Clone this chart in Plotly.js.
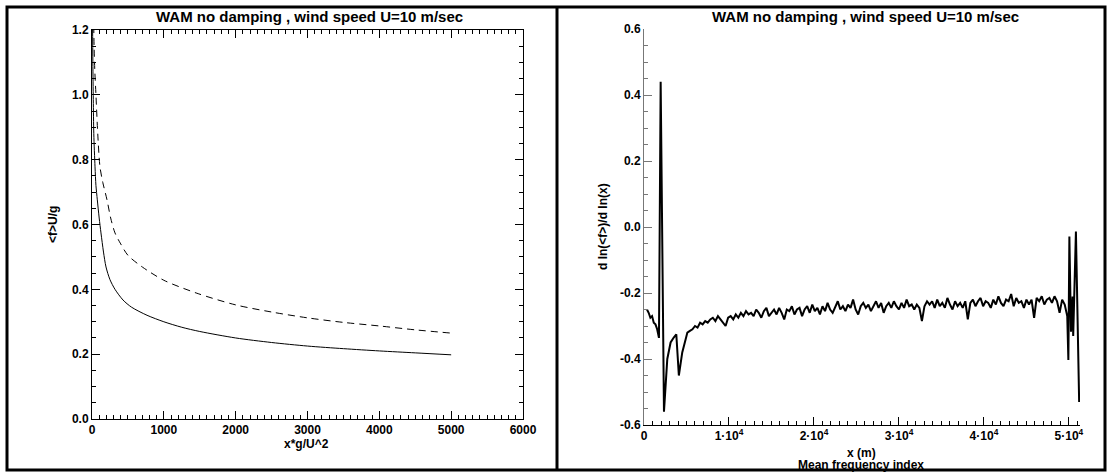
<!DOCTYPE html>
<html><head><meta charset="utf-8">
<script src="https://cdn.plot.ly/plotly-3.0.1.min.js"></script>
<style>html,body{margin:0;padding:0;background:#fff}#chart{width:1108px;height:473px}</style>
</head><body><div id="chart"></div><script>
// ---- Left panel data: dimensionless fetch x*g/U^2 vs <f>U/g ----
const solidX = [8, 12, 18, 25, 42, 55, 74, 100, 125, 160, 195, 250, 320, 432, 550, 766, 1000, 1250, 1500, 2000, 2500, 3000, 3500, 4000, 4500, 5000];
const solidY = [1.22, 1.10, 0.985, 0.88, 0.778, 0.72, 0.676, 0.62, 0.574, 0.515, 0.469, 0.43, 0.40, 0.367, 0.345, 0.32, 0.30, 0.283, 0.27, 0.25, 0.236, 0.225, 0.217, 0.21, 0.204, 0.198];
const dashX = [22, 30, 40, 55, 80, 111, 150, 209, 260, 320, 400, 500, 700, 1000, 1460, 2000, 2500, 3000, 3500, 4000, 4500, 5000];
const dashY = [1.25, 1.14, 1.07, 1.0, 0.88, 0.778, 0.73, 0.676, 0.62, 0.574, 0.54, 0.505, 0.469, 0.428, 0.388, 0.352, 0.33, 0.312, 0.298, 0.287, 0.275, 0.265];

// ---- Right panel data: x (m) vs d ln(<f>)/d ln(x) ----
const xEarly = [350, 550, 750, 950, 1150, 1350, 1550, 1760, 1960, 2350, 2740, 3130, 3500, 3800, 4100, 4500, 4900];
const yEarly = [-0.25, -0.26, -0.275, -0.27, -0.29, -0.295, -0.31, -0.336, 0.44, -0.56, -0.40, -0.35, -0.335, -0.325, -0.45, -0.38, -0.34];
const xMid = [5100,5400,5700,6000,6300,6600,6900,7200,
7500,7800,8100,8400,8700,9000,9300,9600,9900,
10200,10500,10800,11100,11400,11700,12000,12300,12600,
12900,13200,13500,13800,14100,14400,14700,15000,15300,
15600,15900,16200,16500,16800,17100,17400,17700,18000,
18300,18600,18900,19200,19500,19800,20100,20400,20700,
21000,21300,21600,21900,22200,22500,22800,23100,23400,
23700,24000,24300,24600,24900,25200,25500,25800,26100,
26400,26700,27000,27300,27600,27900,28200,28500,28800,
29100,29400,29700,30000,30300,30600,30900,31200,31500,
31800,32100,32400,32700,33000,33300,33600,33900,34200,
34500,34800,35100,35400,35700,36000,36300,36600,36900,
37200,37500,37800,38100,38400,38700,39000,39300,39600,
39900,40200,40500,40800,41100,41400,41700,42000,42300,
42600,42900,43200,43500,43800,44100,44400,44700,45000,
45300,45600,45900,46200,46500,46800,47100,47400,47700,
48000,48300,48600,48900,49200,49500,49800];
const yMid = [-0.32,-0.315,-0.31,-0.30,-0.305,-0.29,-0.295,-0.285,
-0.29,-0.28,-0.275,-0.285,-0.27,-0.28,-0.29,-0.30,-0.275,
-0.27,-0.28,-0.265,-0.275,-0.26,-0.27,-0.255,-0.265,-0.26,
-0.27,-0.25,-0.26,-0.275,-0.255,-0.245,-0.27,-0.26,-0.25,
-0.265,-0.245,-0.26,-0.28,-0.25,-0.255,-0.24,-0.265,-0.25,
-0.245,-0.27,-0.25,-0.24,-0.26,-0.235,-0.255,-0.245,-0.265,
-0.24,-0.255,-0.23,-0.25,-0.26,-0.24,-0.225,-0.25,-0.24,
-0.255,-0.235,-0.245,-0.22,-0.25,-0.265,-0.24,-0.23,-0.245,
-0.235,-0.255,-0.24,-0.225,-0.245,-0.23,-0.26,-0.24,-0.23,
-0.245,-0.225,-0.24,-0.25,-0.23,-0.245,-0.22,-0.24,-0.235,
-0.25,-0.235,-0.245,-0.285,-0.24,-0.225,-0.235,-0.225,-0.245,
-0.22,-0.24,-0.23,-0.245,-0.215,-0.235,-0.25,-0.225,-0.24,
-0.23,-0.245,-0.225,-0.28,-0.23,-0.22,-0.24,-0.225,-0.215,
-0.24,-0.225,-0.23,-0.245,-0.22,-0.235,-0.21,-0.23,-0.24,
-0.22,-0.225,-0.203,-0.24,-0.215,-0.23,-0.225,-0.245,-0.22,
-0.235,-0.22,-0.275,-0.215,-0.225,-0.21,-0.235,-0.22,-0.215,
-0.23,-0.21,-0.225,-0.26,-0.22,-0.235,-0.27];
const xEnd = [49930, 50050, 50240, 50430, 50500, 50820, 51200];
const yEnd = [-0.403, -0.029, -0.317, -0.211, -0.33, -0.014, -0.53];

// ---- Tick labels ----
const leftXTicks = [0, 1000, 2000, 3000, 4000, 5000, 6000];
const leftYTicks = [0, 0.2, 0.4, 0.6, 0.8, 1.0, 1.2];
const rightXTicks = [0, 10000, 20000, 30000, 40000, 50000];
const rightXLabels = ['0', '1·10<sup>4</sup>', '2·10<sup>4</sup>', '3·10<sup>4</sup>', '4·10<sup>4</sup>', '5·10<sup>4</sup>'];
const rightYTicks = [-0.6, -0.4, -0.2, 0.0, 0.2, 0.4, 0.6];
const rightYLabels = ['-0.6', '-0.4', '-0.2', '0.0', '0.2', '0.4', '0.6'];

const titleText = 'WAM no damping , wind speed U=10 m/sec';

const W = 1108, H = 473;
const px = v => v / W;
const py = v => 1 - v / H;
const FAM = 'Liberation Sans, Arial, sans-serif';
const tickFont = {family: FAM, size: 12, color: '#000', weight: 'bold'};
const lblFont = {family: FAM, size: 12, color: '#000', weight: 'bold'};

const traces = [
  {x: solidX, y: solidY, xaxis: 'x', yaxis: 'y', mode: 'lines', line: {color: '#000', width: 1, shape: 'spline', smoothing: 0.8}, hoverinfo: 'skip'},
  {x: dashX, y: dashY, xaxis: 'x', yaxis: 'y', mode: 'lines', line: {color: '#000', width: 1, dash: '7px,5px', shape: 'spline', smoothing: 0.8}, hoverinfo: 'skip'},
  {x: xEarly.concat(xMid, xEnd), y: yEarly.concat(yMid, yEnd), xaxis: 'x2', yaxis: 'y2', mode: 'lines',
   line: {color: '#000', width: 2}, hoverinfo: 'skip'}
];

const layout = {
  width: W, height: H, autosize: false,
  margin: {l: 0, r: 0, t: 0, b: 0},
  paper_bgcolor: '#fff', plot_bgcolor: '#fff',
  showlegend: false,
  xaxis: {domain: [px(92), px(523)], anchor: 'y', range: [0, 6000], tickmode: 'array', tickvals: leftXTicks,
    ticks: 'inside', ticklen: 8, tickwidth: 1, tickcolor: '#000', mirror: 'allticks', showline: true, linecolor: '#000', linewidth: 1,
    showgrid: false, zeroline: false, tickfont: tickFont,
    minor: {tickmode: 'linear', tick0: 0, dtick: 100, ticks: 'inside', ticklen: 4, tickwidth: 1, tickcolor: '#000', showgrid: false}},
  yaxis: {domain: [py(419), py(30)], anchor: 'x', range: [0, 1.2], tickmode: 'array', tickvals: leftYTicks, tickformat: '.1f',
    ticks: 'inside', ticklen: 8, tickwidth: 1, tickcolor: '#000', mirror: 'allticks', showline: true, linecolor: '#000', linewidth: 1,
    showgrid: false, zeroline: false, tickfont: tickFont,
    minor: {tickmode: 'linear', tick0: 0, dtick: 0.05, ticks: 'inside', ticklen: 4, tickwidth: 1, tickcolor: '#000', showgrid: false}},
  xaxis2: {domain: [px(644), px(1080)], anchor: 'y2', range: [0, 51300], tickmode: 'array', tickvals: rightXTicks, ticktext: rightXLabels,
    ticks: 'inside', ticklen: 8, tickwidth: 1, tickcolor: '#000', showline: true, linecolor: '#000', linewidth: 1,
    showgrid: false, zeroline: false, tickfont: tickFont,
    minor: {tickmode: 'linear', tick0: 0, dtick: 1000, ticks: 'inside', ticklen: 4, tickwidth: 1, tickcolor: '#000', showgrid: false}},
  yaxis2: {domain: [py(425), py(29)], anchor: 'x2', range: [-0.6, 0.6], tickmode: 'array', tickvals: rightYTicks, ticktext: rightYLabels,
    ticks: 'inside', ticklen: 8, tickwidth: 1, tickcolor: '#777', showline: true, linecolor: '#777', linewidth: 1,
    showgrid: false, zeroline: false, tickfont: tickFont,
    minor: {tickmode: 'linear', tick0: -0.6, dtick: 0.05, ticks: 'inside', ticklen: 4, tickwidth: 1, tickcolor: '#777', showgrid: false}},
  annotations: [
    {text: titleText, x: px(309), y: py(16), xref: 'paper', yref: 'paper', showarrow: false, xanchor: 'center', yanchor: 'middle',
     font: {family: FAM, size: 15, color: '#000', weight: 'bold'}},
    {text: titleText, x: px(865), y: py(16), xref: 'paper', yref: 'paper', showarrow: false, xanchor: 'center', yanchor: 'middle',
     font: {family: FAM, size: 15, color: '#000', weight: 'bold'}},
    {text: 'x*g/U^2', x: px(306), y: py(444), xref: 'paper', yref: 'paper', showarrow: false, xanchor: 'center', yanchor: 'middle', font: lblFont},
    {text: '&lt;f&gt;U/g', x: px(53), y: py(225), xref: 'paper', yref: 'paper', showarrow: false, xanchor: 'center', yanchor: 'middle', textangle: -90, font: lblFont},
    {text: 'x (m)', x: px(861), y: py(453), xref: 'paper', yref: 'paper', showarrow: false, xanchor: 'center', yanchor: 'middle', font: lblFont},
    {text: 'Mean frequency index', x: px(861), y: py(465), xref: 'paper', yref: 'paper', showarrow: false, xanchor: 'center', yanchor: 'middle', font: lblFont},
    {text: 'd ln(&lt;f&gt;)/d ln(x)', x: px(603), y: py(227), xref: 'paper', yref: 'paper', showarrow: false, xanchor: 'center', yanchor: 'middle', textangle: -90, font: lblFont}
  ],
  shapes: [
    {type: 'rect', xref: 'paper', yref: 'paper', x0: px(7), x1: px(1105), y0: py(470), y1: py(7), line: {color: '#000', width: 3}, layer: 'above'},
    {type: 'line', xref: 'paper', yref: 'paper', x0: px(557), x1: px(557), y0: py(470), y1: py(7), line: {color: '#000', width: 3}, layer: 'above'}
  ]
};

Plotly.newPlot('chart', traces, layout, {displayModeBar: false, staticPlot: true});
</script></body></html>
